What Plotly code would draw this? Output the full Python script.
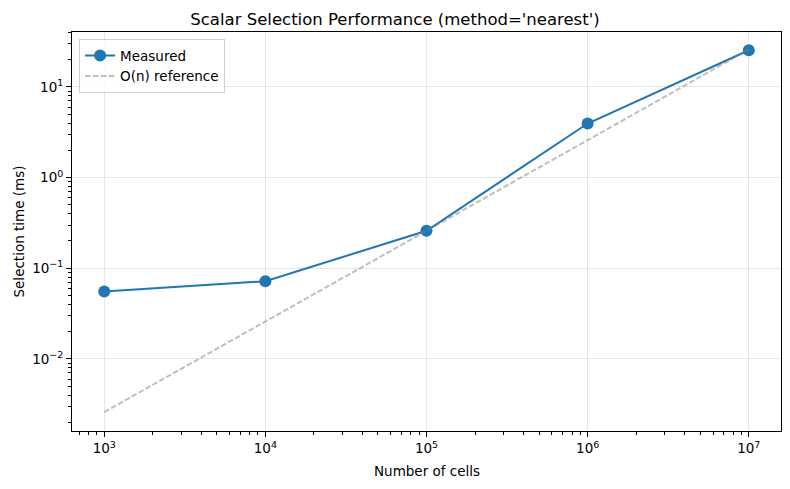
import plotly.graph_objects as go

# Data
n_cells = [1e3, 1e4, 1e5, 1e6, 1e7]
measured_ms = [0.0553, 0.072, 0.259, 3.95, 25.4]
reference_ms = [0.00259, 0.0259, 0.259, 2.59, 25.9]
x_tick_vals = [1e3, 1e4, 1e5, 1e6, 1e7]
x_tick_text = ["10<sup>3</sup>", "10<sup>4</sup>", "10<sup>5</sup>", "10<sup>6</sup>", "10<sup>7</sup>"]
y_tick_vals = [1e-2, 1e-1, 1e0, 1e1]
y_tick_text = ["10<sup>\u22122</sup>", "10<sup>\u22121</sup>", "10<sup>0</sup>", "10<sup>1</sup>"]

FONT = "DejaVu Sans"
W, H = 782, 481  # page body has an 8px margin

def minor_vals(lo, hi):
    vals = []
    for e in range(lo, hi + 1):
        for m in range(2, 10):
            vals.append(m * 10 ** e)
    return vals

fig = go.Figure()
fig.add_trace(go.Scatter(
    x=n_cells, y=measured_ms, mode="lines+markers", name="Measured",
    line=dict(color="#1f77b4", width=2),
    marker=dict(color="#1f77b4", size=12),
))
fig.add_trace(go.Scatter(
    x=n_cells, y=reference_ms, mode="lines", name="O(n) reference",
    line=dict(color="rgba(128,128,128,0.5)", width=2, dash="5.5px,2.4px"),
))

axis_common = dict(
    type="log", showline=True, linecolor="black", linewidth=1.1, mirror=True,
    ticks="outside", ticklen=5, tickwidth=1.1, tickcolor="black",
    showgrid=True, gridcolor="rgba(176,176,176,0.3)", gridwidth=1,
    zeroline=False, tickmode="array",
    tickfont=dict(family=FONT, size=13.5, color="black"),
)

fig.update_xaxes(
    **axis_common, range=[2.8, 7.2],
    tickvals=x_tick_vals, ticktext=x_tick_text,
    minor=dict(tickmode="array", tickvals=minor_vals(2, 7), ticks="outside",
               ticklen=3, tickwidth=0.8, tickcolor="black", showgrid=False),
)
fig.update_yaxes(
    **axis_common, range=[-2.795, 1.606],
    tickvals=y_tick_vals, ticktext=y_tick_text,
    minor=dict(tickmode="array", tickvals=minor_vals(-3, 1), ticks="outside",
               ticklen=3, tickwidth=0.8, tickcolor="black", showgrid=False),
)

fig.update_layout(
    width=W, height=H,
    margin=dict(l=64, r=9, t=24, b=58),
    paper_bgcolor="white", plot_bgcolor="white",
    font=dict(family=FONT, color="black"),
    title=dict(text="Scalar Selection Performance (method='nearest')",
               x=(395 - 8) / W, xref="container", xanchor="center",
               y=1 - 11 / H, yref="container", yanchor="middle",
               font=dict(family=FONT, size=16.5, color="black")),
    showlegend=True,
    legend=dict(x=0.01, y=0.982, xanchor="left", yanchor="top",
                bgcolor="rgba(255,255,255,0.8)", bordercolor="#d0d0d0", borderwidth=1,
                font=dict(family=FONT, size=13.5, color="black"),
                itemwidth=30, tracegroupgap=0),
    annotations=[
        dict(text="Number of cells", xref="paper", yref="paper", x=0.5, y=0,
             xanchor="center", yanchor="middle", yshift=-40, showarrow=False,
             font=dict(family=FONT, size=13.5, color="black")),
        dict(text="Selection time (ms)", xref="paper", yref="paper", x=0, y=0.5,
             xanchor="center", yanchor="middle", xshift=-54, textangle=-90,
             showarrow=False, font=dict(family=FONT, size=13.5, color="black")),
    ],
)

fig.write_html("out.html")
